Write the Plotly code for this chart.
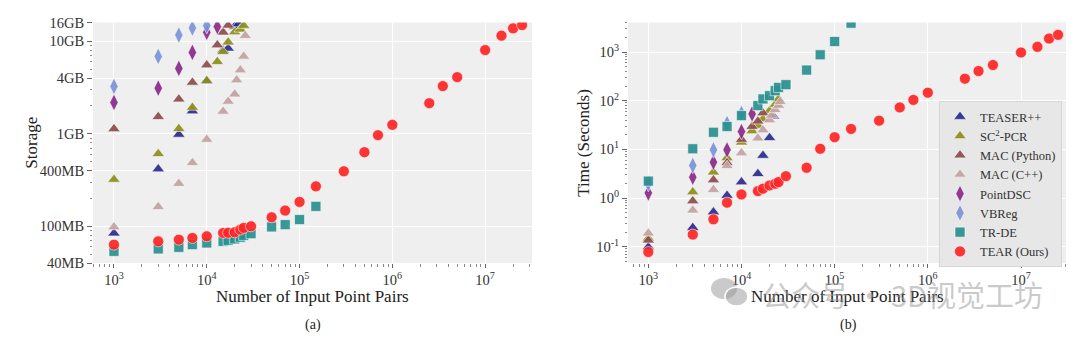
import math
import plotly.graph_objects as go

# ---------------- data ----------------
teaser_n = [1000, 3000, 5000, 7000, 10000, 15000, 17000, 20000, 22000]
teaser_storage = [84, 415, 983, 1760, 3700, 8000, 8400, 14500, 15400]
teaser_time = [0.099, 0.247, 0.516, 1.13, 2.13, 3.16, 7.5, 17.3, 48]

sc2_n = [1000, 3000, 5000, 7000, 10000, 13000, 15000, 17000, 20000, 23000, 25000]
sc2_storage = [320, 607, 1133, 1927, 3752, 6027, 7730, 9800, 12630, 13500, 14800]
sc2_time = [0.15, 1.33, 3.4, 6.7, 14, 24, 31, 42, 62, 84, 109]

macpy_n = [1000, 3000, 5000, 7000, 10000, 13000, 15000, 17000]
macpy_storage = [1130, 1528, 2370, 3593, 5535, 9120, 12520, 14900]
macpy_time = [0.136, 0.87, 2.35, 5.3, 16, 29.5, 38, 56]

maccpp_n = [1000, 3000, 5000, 7000, 10000, 15000, 17000, 20000, 21000, 23000, 25000, 26000]
maccpp_storage = [98, 162, 289, 485, 868, 1744, 2239, 2686, 3808, 4890, 6878, 11530]
maccpp_time = [0.19, 0.56, 1.49, 4.6, 8.4, 17, 25, 40, 50, 65, 80, 95]

pointdsc_n = [1000, 3000, 5000, 7000, 10000, 13000]
pointdsc_storage = [2183, 3119, 5100, 7600, 12520, 14430]
pointdsc_time = [1.27, 2.69, 5.47, 9.8, 23.3, 53.7]

vbreg_n = [1000, 3000, 5000, 7000, 10000]
vbreg_storage = [3254, 6878, 11700, 13940, 14800]
vbreg_time = [2.0, 4.68, 9.8, 34, 55]

trde_n = [1000, 3000, 5000, 7000, 10000, 15000, 17000, 20000, 23000, 25000,
          30000, 50000, 70000, 100000, 150000]
trde_storage = [53.5, 56.8, 59.1, 63.2, 65.9, 68.6, 70.3, 72.8, 76, 79.6,
                83, 98.3, 104, 118, 164]
trde_time = [2.23, 10.3, 22.5, 29.5, 49.5, 79.4, 109, 127, 161, 188,
             214, 427, 881, 1648, 3927]

tear_n = [1000, 3000, 5000, 7000, 10000, 15000, 17000, 20000, 23000, 25000,
          30000, 50000, 70000, 100000, 150000, 300000, 500000, 700000, 1000000,
          2500000, 3500000, 5000000, 10000000, 15000000, 20000000, 25000000]
tear_storage = [63.2, 68.6, 71.6, 74.6, 77.8, 84.6, 85, 86, 92, 95.9,
                99.8, 124.9, 147.6, 183, 270, 393, 632, 966, 1252,
                2146, 3280, 4103, 8050, 11530, 13830, 15020]
tear_time = [0.078, 0.178, 0.366, 0.805, 1.19, 1.39, 1.56, 1.82, 1.97, 2.13,
             2.82, 4.2, 10.3, 17.8, 26.4, 39, 73, 104, 146.5,
             284, 408, 542, 982, 1284, 1900, 2263]

x_tick_vals = [1e3, 1e4, 1e5, 1e6, 1e7]
x_tick_text = ["10<sup>3</sup>", "10<sup>4</sup>", "10<sup>5</sup>",
               "10<sup>6</sup>", "10<sup>7</sup>"]
storage_tick_vals = [40, 100, 400, 1000, 4000, 10000, 16000]
storage_tick_text = ["40MB", "100MB", "400MB", "1GB", "4GB", "10GB", "16GB"]
time_tick_vals = [0.1, 1, 10, 100, 1000]
time_tick_text = ["10<sup>-1</sup>", "10<sup>0</sup>", "10<sup>1</sup>",
                  "10<sup>2</sup>", "10<sup>3</sup>"]

methods = [
    ("TEASER++", "#2b2b8e", "triangle-up", 11, teaser_n, teaser_storage, teaser_time),
    ("SC<sup>2</sup>-PCR", "#8e8e1c", "triangle-up", 11, sc2_n, sc2_storage, sc2_time),
    ("MAC (Python)", "#8e4c4c", "triangle-up", 11, macpy_n, macpy_storage, macpy_time),
    ("MAC (C++)", "#c3a3a3", "triangle-up", 11, maccpp_n, maccpp_storage, maccpp_time),
    ("PointDSC", "#8a2a8a", "diamond-tall", 12, pointdsc_n, pointdsc_storage, pointdsc_time),
    ("VBReg", "#7b94d8", "diamond-tall", 12, vbreg_n, vbreg_storage, vbreg_time),
    ("TR-DE", "#2a9090", "square", 10, trde_n, trde_storage, trde_time),
    ("TEAR (Ours)", "#ff2525", "circle", 11, tear_n, tear_storage, tear_time),
]

# ---------------- figure ----------------
W, H = 1080, 339
SERIF = "Liberation Serif"
fig = go.Figure()

for name, color, symbol, size, n, st, tm in methods:
    mk = dict(color=color, symbol=symbol, size=size, opacity=0.92,
              line=dict(color="white", width=0.6))
    fig.add_trace(go.Scatter(x=n, y=st, mode="markers", marker=mk, name=name,
                             legendgroup=name, showlegend=False,
                             xaxis="x", yaxis="y"))
    fig.add_trace(go.Scatter(x=n, y=tm, mode="markers", marker=mk, name=name,
                             legendgroup=name, showlegend=True,
                             xaxis="x2", yaxis="y2"))


def minor_vals(lo, hi, majors):
    out = []
    for e in range(math.floor(math.log10(lo)) - 1, math.ceil(math.log10(hi)) + 1):
        for m in range(1, 10):
            v = m * 10 ** e
            if lo <= v <= hi and not any(abs(v - mj) / mj < 1e-9 for mj in majors):
                out.append(v)
    return out


def px_x(a, b):
    return [a / W, b / W]


ydom = [1 - 263 / H, 1 - 22.5 / H]
tickfont = dict(family=SERIF, size=14.5, color="#333")

common_x = dict(type="log", tickvals=x_tick_vals, ticktext=x_tick_text,
                ticks="outside", ticklen=4, tickcolor="#666", tickwidth=1,
                showgrid=True, gridcolor="white", gridwidth=1.2, automargin=False,
                zeroline=False, showline=False, tickfont=tickfont)

xl = [2.774, 7.505]
xr = [2.782, 7.483]
fig.update_layout(
    xaxis=dict(common_x, range=xl, domain=px_x(93, 532), anchor="y",
               minor=dict(tickvals=minor_vals(10 ** xl[0], 10 ** xl[1], x_tick_vals),
                          ticks="outside", ticklen=2.5, tickcolor="#888",
                          showgrid=False)),
    xaxis2=dict(common_x, range=xr, domain=px_x(628, 1066), anchor="y2",
                minor=dict(tickvals=minor_vals(10 ** xr[0], 10 ** xr[1], x_tick_vals),
                           ticks="outside", ticklen=2.5, tickcolor="#888",
                           showgrid=False)),
    yaxis=dict(type="log", range=[math.log10(40), math.log10(16000)], domain=ydom,
               anchor="x", tickvals=storage_tick_vals, ticktext=storage_tick_text,
               ticks="outside", ticklen=5, tickcolor="#666", automargin=False,
               showgrid=True, gridcolor="white", gridwidth=1.2, zeroline=False,
               showline=False, tickfont=tickfont,
               minor=dict(tickvals=minor_vals(40, 16000, storage_tick_vals),
                          ticks="outside", ticklen=2.5, tickcolor="#888",
                          showgrid=False)),
    yaxis2=dict(type="log", range=[-1.334, 3.608], domain=ydom, anchor="x2",
                tickvals=time_tick_vals, ticktext=time_tick_text,
                ticks="outside", ticklen=5, tickcolor="#666", automargin=False,
                showgrid=True, gridcolor="white", gridwidth=1.2, zeroline=False,
                showline=False, tickfont=tickfont,
                minor=dict(tickvals=minor_vals(10 ** -1.334, 10 ** 3.608, time_tick_vals),
                           ticks="outside", ticklen=2.5, tickcolor="#888",
                           showgrid=False)),
    width=W, height=H,
    margin=dict(l=0, r=0, t=0, b=0, autoexpand=False),
    paper_bgcolor="white", plot_bgcolor="#efefef",
    legend=dict(x=939 / W, y=1 - 101 / H, xanchor="left", yanchor="top",
                bgcolor="#e7e7e7", bordercolor="#d6d6d6", borderwidth=1,
                font=dict(family=SERIF, size=12.5, color="#333"),
                tracegroupgap=0, itemwidth=30),
)

ann_font = dict(family=SERIF, size=17, color="#222")
annotations = [
    dict(text="Storage", x=32 / W, y=1 - 142.7 / H, textangle=-90),
    dict(text="Time (Seconds)", x=584 / W, y=1 - 142.7 / H, textangle=-90),
    dict(text="Number of Input Point Pairs", x=312.5 / W, y=1 - 296 / H),
    dict(text="Number of Input Point Pairs", x=847 / W, y=1 - 296 / H),
    dict(text="(a)", x=313 / W, y=1 - 325 / H, font=dict(family=SERIF, size=14, color="#222")),
    dict(text="(b)", x=848 / W, y=1 - 325 / H, font=dict(family=SERIF, size=14, color="#222")),
]
for a in annotations:
    a.setdefault("font", ann_font)
    fig.add_annotation(xref="paper", yref="paper", showarrow=False,
                       xanchor="center", yanchor="middle", **a)

# watermark
fig.add_annotation(xref="paper", yref="paper", showarrow=False,
                   x=902 / W, y=1 - 294 / H, xanchor="center", yanchor="middle",
                   text="公众号 · 3D视觉工坊",
                   font=dict(family="Noto Sans CJK SC", size=29,
                             color="rgba(150,150,150,0.5)"))
fig.add_shape(type="circle", xref="paper", yref="paper",
              x0=711 / W, x1=737 / W, y0=1 - 299 / H, y1=1 - 278 / H,
              fillcolor="rgba(150,150,150,0.5)", line=dict(width=0))
fig.add_shape(type="circle", xref="paper", yref="paper",
              x0=725 / W, x1=748 / W, y0=1 - 306 / H, y1=1 - 287 / H,
              fillcolor="rgba(150,150,150,0.5)", line=dict(color="white", width=1.5))

fig.write_html("out.html")
